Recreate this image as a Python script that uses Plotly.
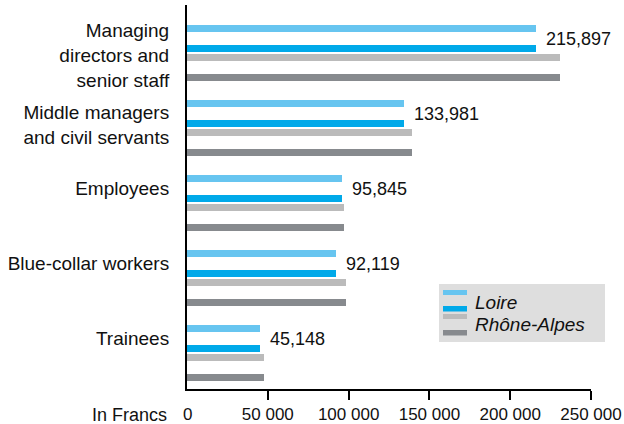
import plotly.graph_objects as go

# ---------------- data ----------------
categories = ["Managing<br>directors and<br>senior staff",
              "Middle managers<br>and civil servants",
              "Employees",
              "Blue-collar workers",
              "Trainees"]
series_names = ["Loire", "Rhône-Alpes"]
loire = [215897, 133981, 95845, 92119, 45148]
rhone_alpes = [231000, 139000, 97000, 98500, 47700]
x_tickvals = [50000, 100000, 150000, 200000, 250000]
x_ticktext = ["50 000", "100 000", "150 000", "200 000", "250 000"]
axis_title = "In Francs"
zero_label = "0"

# ---------------- layout geometry ----------------
W, H = 624, 424
ML, MR, MT, MB = 187, 33, 5, 35
PW, PH = W - ML - MR, H - MT - MB
CAT_PX = 75.0          # pixels between categories
FIRST_PX = 33.5        # first category centre from plot top
BAR_PX = 7.0
FONT = "Liberation Sans, Arial, Helvetica, sans-serif"
CAT_FS = 19

LB, BL, LG, DG = "#67c5f0", "#00a9e9", "#bbbbbb", "#878a8e"

idx = list(range(len(categories)))
u = lambda px: px / CAT_PX

fig = go.Figure()

def add_bar(vals, dy_px, color):
    fig.add_trace(go.Bar(
        x=vals, y=[i + u(dy_px) for i in idx], orientation="h",
        width=u(BAR_PX), marker=dict(color=color, line=dict(width=0)),
        showlegend=False, hoverinfo="skip"))

add_bar(loire, -10, LB)
add_bar(loire, 10, BL)
add_bar(rhone_alpes, 19, LG)
add_bar(rhone_alpes, 39, DG)

# tick positions: first text line near the Loire bar centre
nlines = [c.count("<br>") + 1 for c in categories]
line_h = 1.3 * CAT_FS
label_nudge_px = {1: 0, 2: -1, 3: -8}
y_tickvals = [i + u((n - 1) / 2 * line_h + label_nudge_px[n]) for i, n in zip(idx, nlines)]

annotations = []
for i, v in zip(idx, loire):
    annotations.append(dict(x=v, y=i, xref="x", yref="y", text=f"{v:,}",
                            xanchor="left", yanchor="middle", xshift=8,
                            showarrow=False,
                            font=dict(size=18, color="#111111", family=FONT)))
annotations.append(dict(x=0, y=0, xref="x", yref="paper", text=zero_label,
                        xanchor="center", yanchor="middle", yshift=-25.5,
                        showarrow=False, font=dict(size=17, color="#111111", family=FONT)))
annotations.append(dict(x=0, y=0, xref="x", yref="paper", text=axis_title,
                        xanchor="right", yanchor="middle", yshift=-25.5, xshift=-18,
                        showarrow=False, font=dict(size=18, color="#111111", family=FONT)))

# ---------------- legend (custom) ----------------
def px_x(p):
    return (p - ML) / PW

def px_y(p):
    return (MT + PH - p) / PH

shapes = [dict(type="rect", xref="paper", yref="paper",
               x0=px_x(439), x1=px_x(605), y0=px_y(342), y1=px_y(284),
               fillcolor="#dedede", line=dict(width=0), layer="above")]
for (y0, y1, col) in [(290, 295, LB), (306, 311.5, BL), (314, 319, LG), (330, 335.5, DG)]:
    shapes.append(dict(type="rect", xref="paper", yref="paper",
                       x0=px_x(443), x1=px_x(467), y0=px_y(y1), y1=px_y(y0),
                       fillcolor=col, line=dict(width=0), layer="above"))
for name, yc in zip(series_names, [302, 324]):
    annotations.append(dict(x=px_x(473), y=px_y(yc), xref="paper", yref="paper",
                            text=f"<i>{name}</i>", xanchor="left", yanchor="middle",
                            showarrow=False,
                            font=dict(size=19, color="#111111", family=FONT)))

fig.update_layout(
    template="none",
    width=W, height=H, autosize=False,
    margin=dict(l=ML, r=MR, t=MT, b=MB, pad=0),
    paper_bgcolor="white", plot_bgcolor="white",
    barmode="overlay", bargap=0,
    font=dict(family=FONT, color="#111111"),
    xaxis=dict(range=[0, 250000], tickvals=x_tickvals, ticktext=x_ticktext,
               automargin=False,
               ticks="outside", ticklen=9, tickwidth=2, tickcolor="black",
               showline=True, linecolor="black", linewidth=2,
               showgrid=False, zeroline=False,
               tickfont=dict(size=17, color="#111111", family=FONT)),
    yaxis=dict(range=[u(PH - FIRST_PX), -u(FIRST_PX)],
               automargin=False,
               tickvals=y_tickvals, ticktext=categories, ticks="",
               showline=True, linecolor="black", linewidth=2,
               showgrid=False, zeroline=False, ticklabelstandoff=12,
               tickfont=dict(size=CAT_FS, color="#111111", family=FONT)),
    annotations=annotations, shapes=shapes,
)

fig.write_html("out.html",
               config={"displayModeBar": False},
               post_script="document.body.style.margin='0px';"
                           "document.body.style.overflow='hidden';")
